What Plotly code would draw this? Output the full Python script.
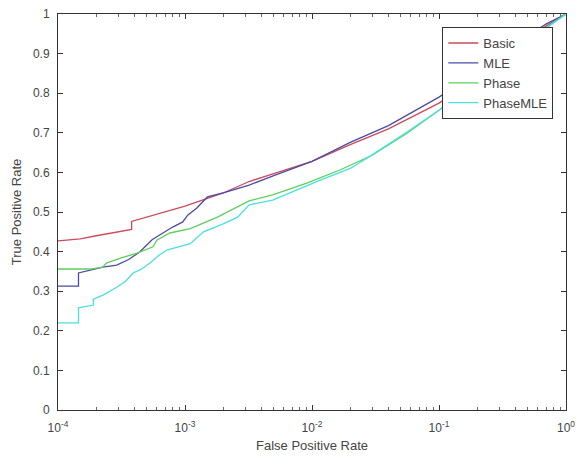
import plotly.graph_objects as go

# ---- data ----
basic_fpr = [1e-4, 1.5e-4, 2e-4, 3e-4, 3.8e-4, 3.8e-4, 6e-4, 1e-3, 2e-3, 3.2e-3, 5e-3, 1e-2, 2e-2, 4e-2, 0.1, 0.2, 0.4, 0.7, 1.0]
basic_tpr = [0.427, 0.432, 0.44, 0.45, 0.456, 0.476, 0.495, 0.515, 0.548, 0.577, 0.597, 0.628, 0.67, 0.71, 0.775, 0.84, 0.91, 0.97, 1.0]

mle_fpr = [1e-4, 1.45e-4, 1.45e-4, 2.26e-4, 2.9e-4, 3.6e-4, 4.4e-4, 5.5e-4, 6.7e-4, 8e-4, 9.6e-4, 1.05e-3, 1.24e-3, 1.5e-3, 2e-3, 3.2e-3, 5e-3, 1e-2, 2e-2, 4e-2, 0.1, 0.2, 0.4, 0.7, 1.0]
mle_tpr = [0.313, 0.313, 0.346, 0.361, 0.366, 0.38, 0.399, 0.43, 0.447, 0.462, 0.475, 0.492, 0.51, 0.538, 0.548, 0.568, 0.592, 0.628, 0.676, 0.718, 0.79, 0.855, 0.925, 0.975, 1.0]

phase_fpr = [1e-4, 1.8e-4, 2.26e-4, 2.4e-4, 3.2e-4, 4.2e-4, 5.6e-4, 6e-4, 7.6e-4, 1.1e-3, 1.8e-3, 3.2e-3, 4.9e-3, 9.1e-3, 1.66e-2, 3e-2, 5.6e-2, 0.1, 0.2, 0.4, 0.7, 1.0]
phase_tpr = [0.356, 0.356, 0.361, 0.371, 0.385, 0.396, 0.412, 0.429, 0.447, 0.458, 0.487, 0.528, 0.543, 0.573, 0.606, 0.644, 0.699, 0.757, 0.835, 0.91, 0.965, 1.0]

phasemle_fpr = [1e-4, 1.45e-4, 1.45e-4, 1.9e-4, 1.9e-4, 2.26e-4, 2.9e-4, 3.4e-4, 3.9e-4, 4.5e-4, 5.3e-4, 6.2e-4, 7.2e-4, 1.1e-3, 1.4e-3, 2e-3, 2.6e-3, 3.2e-3, 4.9e-3, 1.15e-2, 2e-2, 3e-2, 5.6e-2, 0.1, 0.2, 0.4, 0.7, 1.0]
phasemle_tpr = [0.22, 0.22, 0.258, 0.265, 0.28, 0.29, 0.31, 0.325, 0.346, 0.355, 0.371, 0.39, 0.404, 0.42, 0.45, 0.47, 0.487, 0.518, 0.53, 0.58, 0.61, 0.645, 0.702, 0.757, 0.835, 0.91, 0.965, 1.0]

series = [
    ("Basic", basic_fpr, basic_tpr, "#cc4a5a"),
    ("MLE", mle_fpr, mle_tpr, "#4a4aa8"),
    ("Phase", phase_fpr, phase_tpr, "#5cd05c"),
    ("PhaseMLE", phasemle_fpr, phasemle_tpr, "#48e0e0"),
]

x_tickvals = [1e-4, 1e-3, 1e-2, 1e-1, 1]
x_ticktext = ["10<sup>-4</sup>", "10<sup>-3</sup>", "10<sup>-2</sup>", "10<sup>-1</sup>", "10<sup>0</sup>"]
y_tickvals = [0, 0.1, 0.2, 0.3, 0.4, 0.5, 0.6, 0.7, 0.8, 0.9, 1]
y_ticktext = ["0", "0.1", "0.2", "0.3", "0.4", "0.5", "0.6", "0.7", "0.8", "0.9", "1"]

minor_vals = [m * 10 ** e for e in range(-4, 0) for m in range(2, 10)]

fig = go.Figure()
for name, xs, ys, col in series:
    fig.add_trace(go.Scatter(x=xs, y=ys, mode="lines", name=name,
                             line=dict(color=col, width=1.3)))

fig.update_layout(
    width=580, height=466,
    margin=dict(l=58, r=14, t=14, b=56),
    paper_bgcolor="white", plot_bgcolor="white",
    font=dict(family="Liberation Sans, Arial, sans-serif", size=12, color="#444"),
    showlegend=True,
    legend=dict(x=0.975, y=0.967, xanchor="right", yanchor="top",
                bgcolor="white", bordercolor="#333", borderwidth=1,
                font=dict(size=13, color="#444"), tracegroupgap=0),
)
fig.update_xaxes(
    type="log", range=[-4, 0], tickvals=x_tickvals, ticktext=x_ticktext,
    ticks="inside", ticklen=5, tickcolor="#333", showline=True, linecolor="#333",
    linewidth=1, mirror="ticks", showgrid=False, zeroline=False, automargin=False,
    tickfont=dict(size=12, color="#444"), ticklabelstandoff=7,
    minor=dict(tickvals=minor_vals, ticks="inside", ticklen=3, tickcolor="#666", showgrid=False),
    title=dict(text="False Positive Rate", font=dict(size=13, color="#444"), standoff=6),
)
fig.update_yaxes(
    range=[0, 1], tickvals=y_tickvals, ticktext=y_ticktext,
    ticks="inside", ticklen=5, tickcolor="#333", showline=True, linecolor="#333",
    linewidth=1, mirror="ticks", showgrid=False, zeroline=False, automargin=False,
    tickfont=dict(size=12, color="#444"), ticklabelstandoff=5,
    title=dict(text="True Positive Rate", font=dict(size=13, color="#444"), standoff=8),
)

fig.write_html("out.html", post_script="document.body.style.margin='0';",
               config={"displayModeBar": False})
